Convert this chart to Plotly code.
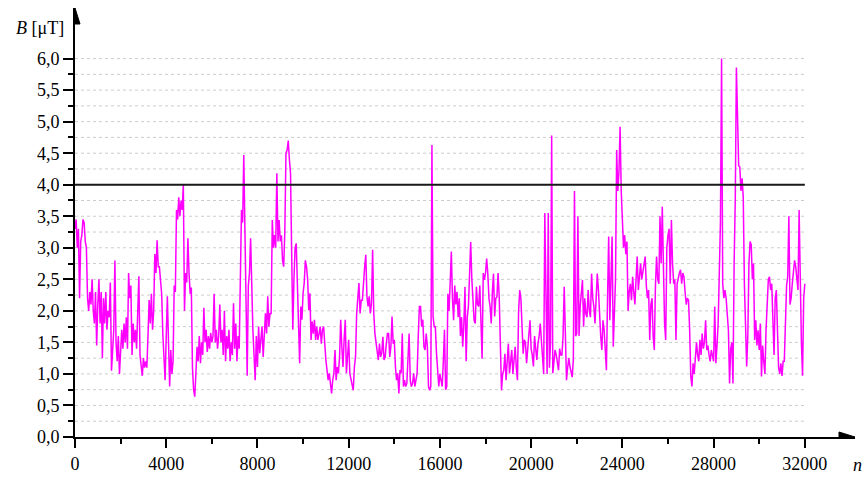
import plotly.graph_objects as go

# ---- data: B [uT] every 50 samples (20 values per 1000) ----
STEP = 50
B_00 = [3.3, 3.45, 3.0, 3.3, 2.2, 3.1, 3.2, 3.45, 3.4, 3.1, 3.0, 2.2, 2.0, 2.3, 2.1, 2.5, 2.0, 1.8, 2.3, 1.45]
B_01 = [2.1, 2.5, 1.8, 2.3, 1.25, 2.2, 1.8, 2.3, 1.7, 2.0, 1.9, 2.45, 1.05, 1.4, 1.7, 2.8, 1.5, 1.2, 1.6, 1.0]
B_02 = [1.3, 1.7, 1.4, 1.8, 1.5, 1.9, 1.4, 2.6, 2.2, 2.4, 1.3, 1.8, 1.5, 1.7, 1.4, 2.0, 2.55, 1.3, 1.1, 0.97]
B_03 = [1.25, 1.1, 1.2, 1.1, 1.6, 2.17, 1.8, 2.27, 1.7, 2.0, 2.9, 2.6, 3.12, 2.7, 2.7, 2.5, 2.27, 1.64, 1.2, 0.9]
B_04 = [1.59, 2.23, 1.5, 0.8, 1.38, 1.0, 1.2, 2.4, 2.3, 3.6, 3.45, 3.8, 3.5, 3.75, 3.6, 4.0, 2.0, 2.6, 2.45, 3.15]
B_05 = [2.6, 2.27, 2.37, 1.1, 0.75, 0.64, 1.0, 1.43, 1.2, 1.6, 1.17, 1.5, 1.3, 2.05, 1.5, 1.7, 1.35, 1.6, 1.4, 1.65]
B_06 = [1.5, 1.6, 2.27, 1.5, 1.7, 1.4, 1.6, 2.1, 1.5, 1.7, 1.3, 2.0, 1.2, 1.6, 1.4, 1.7, 1.2, 1.5, 1.3, 2.12]
B_07 = [1.4, 1.8, 1.2, 1.6, 1.4, 2.3, 3.6, 3.4, 4.47, 3.3, 2.0, 0.97, 2.4, 2.6, 3.15, 2.2, 1.7, 1.3, 0.9, 1.6]
B_08 = [1.11, 1.75, 1.33, 1.54, 1.75, 1.27, 1.54, 1.96, 1.64, 2.23, 1.75, 1.96, 1.96, 3.44, 3.0, 3.2, 3.0, 4.18, 3.1, 3.44]
B_09 = [3.1, 3.2, 2.8, 2.7, 3.25, 4.5, 4.55, 4.7, 4.4, 4.18, 2.91, 1.7, 2.5, 3.0, 3.07, 2.5, 1.75, 1.17, 2.07, 1.86]
B_10 = [2.28, 2.44, 2.8, 2.7, 2.5, 2.01, 2.28, 1.54, 1.83, 1.64, 1.86, 1.54, 1.75, 1.54, 1.64, 1.75, 1.48, 1.7, 1.75, 1.43]
B_11 = [1.22, 1.06, 0.9, 1.01, 0.8, 0.69, 0.9, 1.01, 1.38, 0.9, 1.11, 1.01, 1.27, 1.86, 1.43, 1.11, 1.54, 1.86, 1.01, 1.33]
B_12 = [1.54, 1.01, 0.9, 0.8, 0.74, 1.11, 1.27, 1.96, 2.23, 2.44, 1.96, 2.17, 2.17, 2.5, 2.7, 2.89, 2.23, 2.07, 2.23, 1.96]
B_13 = [2.12, 2.97, 1.96, 1.64, 1.48, 1.38, 1.22, 1.48, 1.27, 1.33, 1.59, 1.22, 1.27, 1.48, 1.64, 1.64, 1.27, 1.43, 1.91, 1.48]
B_14 = [1.54, 1.11, 0.9, 1.01, 0.69, 1.06, 1.01, 1.64, 0.8, 0.9, 0.8, 0.85, 1.33, 1.64, 0.9, 0.8, 0.85, 1.01, 0.8, 0.9]
B_15 = [1.01, 1.59, 2.07, 2.07, 1.75, 1.86, 1.43, 1.38, 1.64, 1.43, 0.8, 0.74, 0.8, 4.63, 1.91, 1.75, 1.75, 1.33, 1.01, 0.8]
B_16 = [1.0, 0.9, 0.8, 1.2, 1.7, 0.75, 0.8, 2.27, 2.0, 2.45, 2.94, 2.2, 1.85, 2.4, 2.1, 2.3, 1.9, 2.2, 1.6, 1.9]
B_17 = [1.43, 1.8, 2.38, 1.2, 1.9, 2.07, 2.5, 3.09, 2.5, 2.1, 1.85, 1.8, 2.38, 2.1, 2.07, 2.4, 1.9, 1.24, 2.6, 2.49]
B_18 = [2.6, 2.83, 2.59, 2.2, 2.07, 1.8, 2.3, 2.59, 1.91, 2.2, 2.22, 2.6, 2.22, 1.64, 0.74, 1.0, 1.06, 1.32, 0.9, 1.2]
B_19 = [1.48, 1.01, 1.2, 1.38, 1.0, 1.2, 1.43, 1.1, 0.9, 2.0, 2.33, 2.2, 1.75, 1.32, 1.54, 1.5, 1.17, 1.4, 1.6, 1.85]
B_20 = [1.4, 1.3, 1.12, 1.6, 1.4, 1.22, 1.48, 1.6, 1.8, 1.5, 1.2, 1.0, 3.55, 2.2, 1.0, 3.55, 1.1, 1.5, 4.78, 1.01]
B_21 = [1.2, 1.38, 1.3, 1.2, 1.06, 1.4, 1.3, 1.3, 1.6, 2.38, 1.5, 0.9, 1.1, 1.25, 1.12, 1.0, 0.95, 1.22, 3.9, 1.6]
B_22 = [1.64, 3.5, 1.6, 2.07, 2.3, 2.49, 1.75, 2.2, 1.95, 1.9, 2.33, 2.0, 1.9, 2.59, 2.2, 2.07, 1.8, 2.3, 2.59, 2.33]
B_23 = [1.91, 1.6, 1.38, 1.85, 1.7, 1.4, 1.06, 2.2, 3.18, 1.85, 2.4, 3.18, 1.43, 2.0, 2.5, 4.55, 3.9, 4.2, 4.92, 3.9]
B_24 = [3.4, 3.0, 3.2, 2.9, 3.1, 2.0, 2.3, 2.43, 2.17, 2.54, 2.3, 2.1, 2.5, 2.86, 2.33, 2.5, 2.75, 2.5, 2.6, 2.7]
B_25 = [2.86, 2.4, 2.2, 2.33, 1.54, 2.1, 2.2, 1.6, 1.38, 2.4, 2.86, 2.5, 2.43, 3.5, 2.75, 3.65, 2.43, 1.8, 1.54, 3.0]
B_26 = [3.2, 3.3, 2.43, 3.44, 2.75, 2.43, 2.5, 1.54, 2.43, 2.54, 2.6, 2.65, 2.43, 2.6, 2.54, 2.3, 2.1, 2.2, 2.17, 1.7]
B_27 = [0.96, 0.8, 1.17, 1.0, 1.2, 1.5, 1.3, 1.2, 1.54, 1.3, 1.64, 1.4, 1.5, 1.85, 1.38, 1.45, 1.3, 1.2, 1.38, 1.25]
B_28 = [1.2, 2.07, 1.17, 1.45, 1.8, 2.6, 3.4, 6.0, 2.43, 2.2, 2.33, 2.2, 2.0, 1.69, 0.85, 1.4, 1.5, 0.85, 2.75, 3.75]
B_29 = [5.86, 4.87, 4.3, 4.28, 3.9, 4.1, 3.8, 2.43, 1.5, 1.12, 1.6, 2.75, 3.1, 3.05, 2.5, 2.75, 1.54, 1.85, 1.45, 1.69]
B_30 = [1.38, 1.8, 0.96, 1.45, 1.2, 1.0, 1.7, 2.2, 2.5, 2.54, 2.33, 2.43, 1.6, 1.3, 2.2, 2.33, 1.7, 1.1, 1.0, 1.17]
B_31 = [0.97, 1.2, 1.2, 1.69, 2.4, 2.54, 3.5, 2.1, 2.2, 2.43, 2.6, 2.8, 2.7, 2.5, 2.33, 3.6, 2.43, 1.5, 0.97, 2.2]
B_END = [2.43]

LIMIT = 4.0
x_ticks = [0, 4000, 8000, 12000, 16000, 20000, 24000, 28000, 32000]
x_minor = [2000, 6000, 10000, 14000, 18000, 22000, 26000, 30000]
y_ticks = [0.0, 0.5, 1.0, 1.5, 2.0, 2.5, 3.0, 3.5, 4.0, 4.5, 5.0, 5.5, 6.0]
y_minor = [0.25, 0.75, 1.25, 1.75, 2.25, 2.75, 3.25, 3.75, 4.25, 4.75, 5.25, 5.75]
y_ticktext = [f"{v:.1f}".replace(".", ",") for v in y_ticks]

blocks = [B_00, B_01, B_02, B_03, B_04, B_05, B_06, B_07, B_08, B_09, B_10,
          B_11, B_12, B_13, B_14, B_15, B_16, B_17, B_18, B_19, B_20, B_21,
          B_22, B_23, B_24, B_25, B_26, B_27, B_28, B_29, B_30, B_31, B_END]
B = [v for blk in blocks for v in blk]
n = [i * STEP for i in range(len(B))]

# ---- layout geometry ----
W, H = 866, 477
ML, MR, MT, MB = 75, 11, 8, 40
PLOT_W = W - ML - MR
PLOT_H = H - MT - MB
XMAX = 34200
YMAX = PLOT_H / 63.07
px_x = XMAX / PLOT_W       # data units per pixel
px_y = YMAX / PLOT_H

FONT = "Liberation Serif"
FS = 18

fig = go.Figure()

fig.add_trace(go.Scatter(x=n, y=B, mode="lines",
                         line=dict(color="#ff00ff", width=1.5),
                         showlegend=False, hoverinfo="skip"))

shapes = []
for v in sorted(y_ticks[1:] + y_minor):
    shapes.append(dict(type="line", xref="x", yref="y", x0=0, x1=x_ticks[-1],
                       y0=v, y1=v, layer="below",
                       line=dict(color="#cccccc", width=1, dash="dot")))
shapes.append(dict(type="line", xref="x", yref="y", x0=0, x1=x_ticks[-1],
                   y0=LIMIT, y1=LIMIT, line=dict(color="#1a1a1a", width=2)))
al, aw = 16, 5
shapes.append(dict(type="path", xref="x", yref="y",
                   path=f"M {XMAX} 0 L {XMAX - al*px_x} {aw*px_y} L {XMAX - al*px_x} {-aw*px_y} Z",
                   fillcolor="black", line=dict(color="black", width=1)))
shapes.append(dict(type="path", xref="x", yref="y",
                   path=f"M 0 {YMAX} L {aw*px_x} {YMAX - al*px_y} L {-aw*px_x} {YMAX - al*px_y} Z",
                   fillcolor="black", line=dict(color="black", width=1)))


def paper_x(fig_px):
    return (fig_px - ML) / PLOT_W


def paper_y(fig_py):
    return 1 - (fig_py - MT) / PLOT_H


fig.update_layout(
    width=W, height=H, autosize=False,
    margin=dict(l=ML, r=MR, t=MT, b=MB, pad=0, autoexpand=False),
    paper_bgcolor="white", plot_bgcolor="white",
    font=dict(family=FONT, size=FS, color="black"),
    shapes=shapes,
    xaxis=dict(range=[0, XMAX], showgrid=False, zeroline=False, automargin=False,
               showline=True, linecolor="black", linewidth=2,
               tickmode="array", tickvals=x_ticks,
               ticktext=[str(v) for v in x_ticks],
               ticks="outside", ticklen=9, tickwidth=2, tickcolor="black",
               minor=dict(tickvals=x_minor, ticks="outside", ticklen=5,
                          tickwidth=2, tickcolor="black"),
               tickfont=dict(family=FONT, size=FS)),
    yaxis=dict(range=[0, YMAX], showgrid=False, zeroline=False, automargin=False,
               showline=True, linecolor="black", linewidth=2,
               tickmode="array", tickvals=y_ticks, ticktext=y_ticktext,
               ticks="outside", ticklen=10, tickwidth=2, tickcolor="black",
               minor=dict(tickvals=y_minor, ticks="outside", ticklen=5,
                          tickwidth=2, tickcolor="black"),
               tickfont=dict(family=FONT, size=FS)),
    annotations=[
        dict(text="<i>B</i> [μT]", xref="paper", yref="paper",
             x=paper_x(66), y=paper_y(28),
             xanchor="right", yanchor="middle", showarrow=False,
             font=dict(family=FONT, size=FS)),
        dict(text="<i>n</i>", xref="paper", yref="paper",
             x=paper_x(857), y=paper_y(465),
             xanchor="center", yanchor="middle", showarrow=False,
             font=dict(family=FONT, size=FS)),
    ],
)

fig.write_html("out.html",
               config={"displayModeBar": False, "responsive": False},
               post_script="document.body.style.margin='0px';"
                           "document.body.style.overflow='hidden';")
